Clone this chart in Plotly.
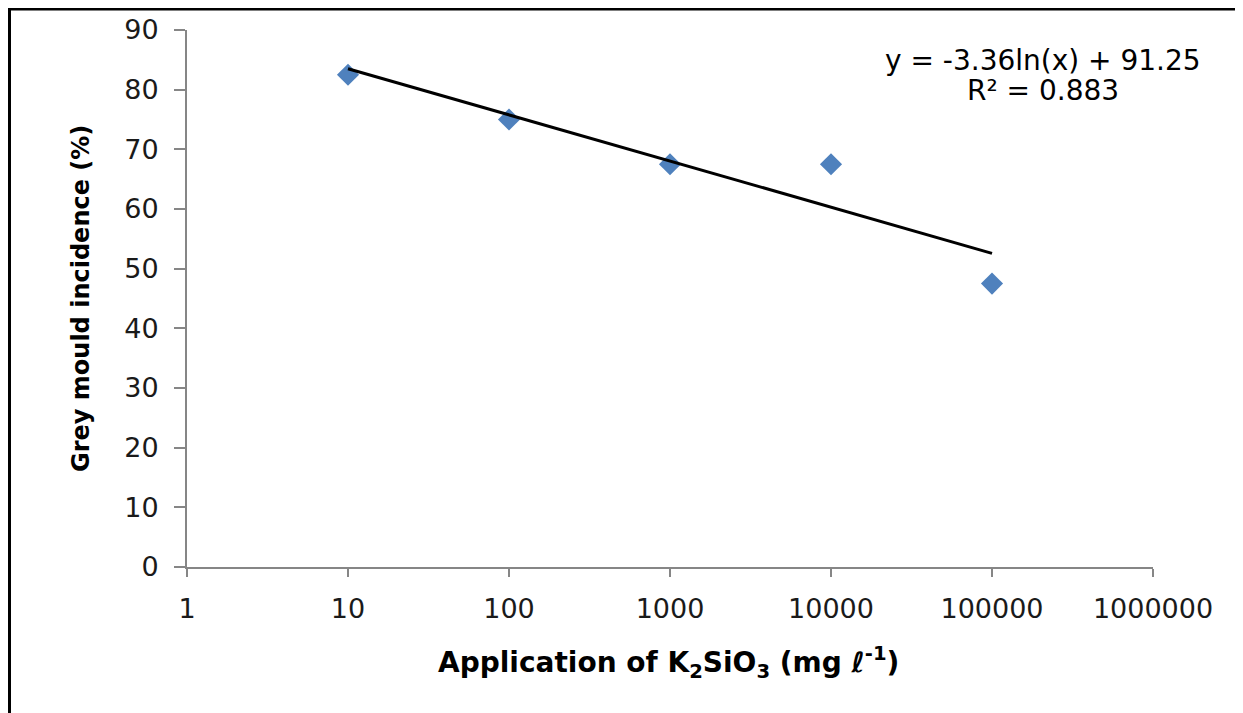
import plotly.graph_objects as go
import numpy as np

# Data
concentrations = [10, 100, 1000, 10000, 100000]
incidence = [82.5, 75.0, 67.5, 67.5, 47.5]
x_tick_vals = [1, 10, 100, 1000, 10000, 100000, 1000000]
x_tick_text = ["1", "10", "100", "1000", "10000", "100000", "1000000"]
y_tick_vals = [0, 10, 20, 30, 40, 50, 60, 70, 80, 90]
trend_slope = -3.36
trend_intercept = 91.25
trend_r2 = 0.883

trend_x = np.array([concentrations[0], concentrations[-1]], dtype=float)
trend_y = trend_slope * np.log(trend_x) + trend_intercept

FONT = "DejaVu Sans, Verdana, sans-serif"

W, H = 1230, 705
L, T, R, B = 179, 22, W - 1145, H - 559
PW, PH = 1145 - 179, 559 - 22


def px(X):
    return (X - L) / PW


def py(Y):
    return (559 - Y) / PH


fig = go.Figure()
fig.add_trace(go.Scatter(
    x=concentrations, y=incidence, mode="markers",
    marker=dict(symbol="diamond", size=17, color="#4F81BD", line=dict(width=0)),
    showlegend=False, cliponaxis=False,
))
fig.add_trace(go.Scatter(
    x=trend_x, y=trend_y, mode="lines",
    line=dict(color="black", width=3),
    showlegend=False,
))

fig.update_layout(
    width=W, height=H,
    margin=dict(l=L, r=R, t=T, b=B, autoexpand=False),
    paper_bgcolor="white", plot_bgcolor="white",
    font=dict(family=FONT, size=28, color="#1a1a1a"),
    xaxis=dict(
        type="log", range=[0, 6],
        tickvals=x_tick_vals, ticktext=x_tick_text,
        showgrid=False, zeroline=False,
        showline=True, linecolor="#868686", linewidth=2,
        ticks="outside", ticklen=8, tickwidth=2, tickcolor="#868686",
        tickfont=dict(family=FONT, size=27, color="#1a1a1a"),
        ticklabelstandoff=9,
    ),
    yaxis=dict(
        range=[0, 90], tickvals=y_tick_vals,
        showgrid=False, zeroline=False,
        showline=True, linecolor="#868686", linewidth=2,
        ticks="outside", ticklen=11, tickwidth=2, tickcolor="#868686",
        tickfont=dict(family=FONT, size=27, color="#1a1a1a"),
        ticklabelstandoff=10,
    ),
)

# Axis titles
fig.add_annotation(
    xref="paper", yref="paper", x=px(660), y=py(654),
    xanchor="center", yanchor="middle", showarrow=False,
    text="<b>Application of K<sub>2</sub>SiO<sub>3</sub> (mg ℓ<sup>-1</sup>)</b>",
    font=dict(family=FONT, size=28, color="black"),
)
fig.add_annotation(
    xref="paper", yref="paper", x=px(73), y=py(291),
    xanchor="center", yanchor="middle", showarrow=False, textangle=-90,
    text="<b>Grey mould incidence (%)</b>",
    font=dict(family=FONT, size=24, color="black"),
)

# Trendline equation
fig.add_annotation(
    xref="paper", yref="paper", x=px(1035), y=py(52),
    xanchor="center", yanchor="middle", showarrow=False,
    text=f"y = {trend_slope}ln(x) + {trend_intercept}",
    font=dict(family=FONT, size=28, color="black"),
)
fig.add_annotation(
    xref="paper", yref="paper", x=px(1035), y=py(82),
    xanchor="center", yanchor="middle", showarrow=False,
    text=f"R² = {trend_r2}",
    font=dict(family=FONT, size=28, color="black"),
)

# Outer border around the whole chart (bottom edge lies below the visible area)
fig.add_shape(
    type="rect", xref="paper", yref="paper",
    x0=px(1.5), x1=px(W - 1.5),
    y0=py(H + 20), y1=py(1),
    line=dict(color="black", width=3), fillcolor="rgba(0,0,0,0)", layer="below",
)

fig.write_html("out.html")
